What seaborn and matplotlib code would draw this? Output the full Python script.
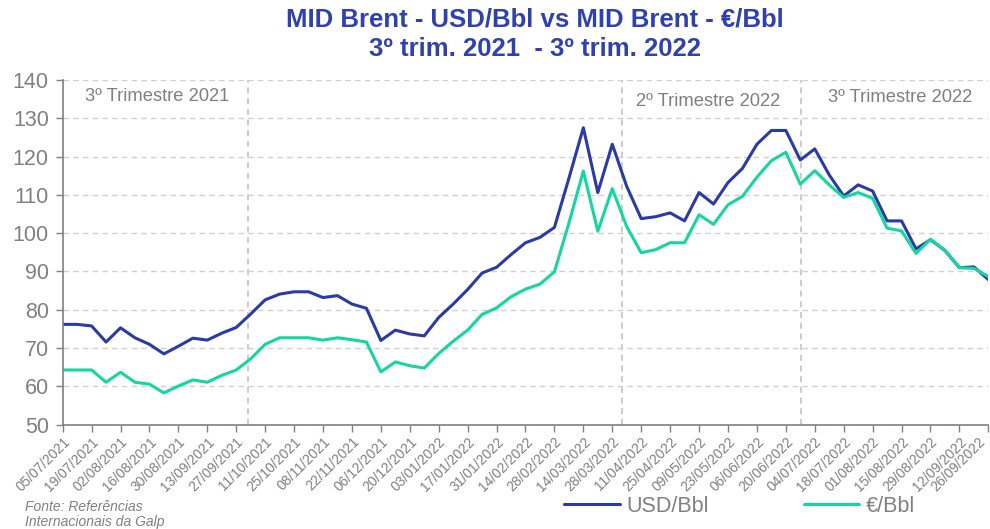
import numpy as np
import pandas as pd
import matplotlib
matplotlib.use("Agg")
import matplotlib.pyplot as plt
import matplotlib.transforms as mtransforms
import seaborn as sns

# Weekly dates (05/07/2021 .. 26/09/2022)
dates = pd.date_range("2021-07-05", "2022-09-26", freq="7D")

usd_bbl = [76.2, 76.2, 75.8, 71.6, 75.3, 72.7, 71.0, 68.5, 70.5, 72.6,
           72.1, 73.9, 75.4, 78.9, 82.6, 84.1, 84.7, 84.7, 83.2, 83.7,
           81.5, 80.4, 72.0, 74.7, 73.7, 73.2, 78.0, 81.5, 85.3, 89.6,
           91.1, 94.4, 97.5, 98.9, 101.5, 114.3, 127.5, 110.6, 123.2, 112.2,
           103.8, 104.3, 105.3, 103.2, 110.6, 107.6, 113.2, 116.9, 123.2, 126.8,
           126.8, 119.1, 122.0, 115.2, 109.7, 112.6, 111.0, 103.2, 103.2, 95.9,
           98.3, 95.5, 91.0, 91.2, 87.9]

eur_bbl = [64.3, 64.3, 64.3, 61.1, 63.7, 61.1, 60.6, 58.3, 60.1, 61.7,
           61.1, 62.9, 64.3, 67.2, 71.0, 72.7, 72.7, 72.7, 72.1, 72.7,
           72.2, 71.6, 63.8, 66.4, 65.4, 64.8, 68.6, 71.8, 74.7, 78.8,
           80.5, 83.4, 85.4, 86.7, 89.9, 102.6, 116.2, 100.5, 111.6, 101.7,
           94.9, 95.7, 97.5, 97.5, 104.8, 102.3, 107.4, 109.6, 114.6, 118.9,
           121.1, 112.8, 116.3, 112.6, 109.3, 110.6, 109.1, 101.3, 100.6, 94.7,
           98.4, 95.5, 91.0, 90.8, 88.7]

series_names = ["USD/Bbl", "€/Bbl"]
tick_labels = [d.strftime("%d/%m/%Y") for d in dates[::2]]
quarter_labels = ["3º Trimestre 2021", "2º Trimestre 2022", "3º Trimestre 2022"]
quarter_bounds = [12.8, 38.7, 51.05]   # positions of quarter separators (week index)
quarter_text_x = [6.5, 44.6, 57.9]
quarter_text_y = [137.9, 136.6, 137.6]

df = pd.DataFrame({
    "week": np.concatenate([np.arange(len(dates))] * 2),
    "value": usd_bbl + eur_bbl,
    "series": [series_names[0]] * len(dates) + [series_names[1]] * len(dates),
})

sns.set_theme(style="white")
plt.rcParams["font.family"] = ["Liberation Sans", "DejaVu Sans"]

grey = "#808080"
fig = plt.figure(figsize=(9.9, 5.29), dpi=100)
ax = fig.add_axes([0.0633, 0.197, 0.935, 0.652])

palette = {"USD/Bbl": "#2A3AA6", "€/Bbl": "#16D6A0"}
sns.lineplot(data=df, x="week", y="value", hue="series", palette=palette,
             linewidth=2.2, ax=ax, legend=False)

ax.set_xlim(0, len(dates) - 1)
ax.set_ylim(50, 140)
ax.set_yticks(range(50, 141, 10))
ax.set_xticks(np.arange(0, len(dates), 2))
ax.set_xticklabels(tick_labels, rotation=45, ha="right", rotation_mode="anchor",
                   fontsize=10, color=grey)
ax.tick_params(axis="y", labelsize=15.5, labelcolor=grey, length=5, color=grey,
               left=True, width=1, pad=5)
ax.tick_params(axis="x", length=5, color=grey, bottom=True, width=1, pad=2)
ax.set_xlabel("")
ax.set_ylabel("")

# keep the last date label inside the figure
last = ax.get_xticklabels()[-1]
last.set_transform(last.get_transform() +
                   mtransforms.ScaledTranslation(-10 / 100, 0, fig.dpi_scale_trans))

ax.yaxis.grid(True, linestyle=(0, (4, 3)), color="#d0d0d0", linewidth=1)
ax.set_axisbelow(True)
for s in ["top", "right"]:
    ax.spines[s].set_visible(False)
for s in ["left", "bottom"]:
    ax.spines[s].set_color(grey)
    ax.spines[s].set_linewidth(1.2)

for xb in quarter_bounds:
    ax.axvline(xb, color="#bfbfbf", linestyle=(0, (4, 3)), linewidth=1.1, zorder=0)

for lab, tx, ty in zip(quarter_labels, quarter_text_x, quarter_text_y):
    ax.text(tx, ty, lab, ha="center", va="top", fontsize=13.2, color=grey)

fig.text(0.54, 0.964, "MID Brent - USD/Bbl vs MID Brent - €/Bbl",
         ha="center", va="center", fontsize=18.5, fontweight="bold", color="#2E41AE")
fig.text(0.54, 0.907, "3º trim. 2021  - 3º trim. 2022",
         ha="center", va="center", fontsize=18.5, fontweight="bold", color="#2E41AE")

# Legend
from matplotlib.lines import Line2D
handles = [Line2D([0], [0], color=palette[n], lw=2.2) for n in series_names]
leg = fig.legend(handles, series_names, loc="center", bbox_to_anchor=(0.747, 0.043),
                 ncol=2, frameon=False, fontsize=15.5, handlelength=2.6,
                 columnspacing=4.4, handletextpad=0.3)
for t in leg.get_texts():
    t.set_color(grey)

fig.text(0.025, 0.028, "Fonte: Referências\nInternacionais da Galp", ha="left",
         va="center", fontsize=10, style="italic", color=grey, linespacing=1.1)

fig.savefig("out.png", dpi=100)
